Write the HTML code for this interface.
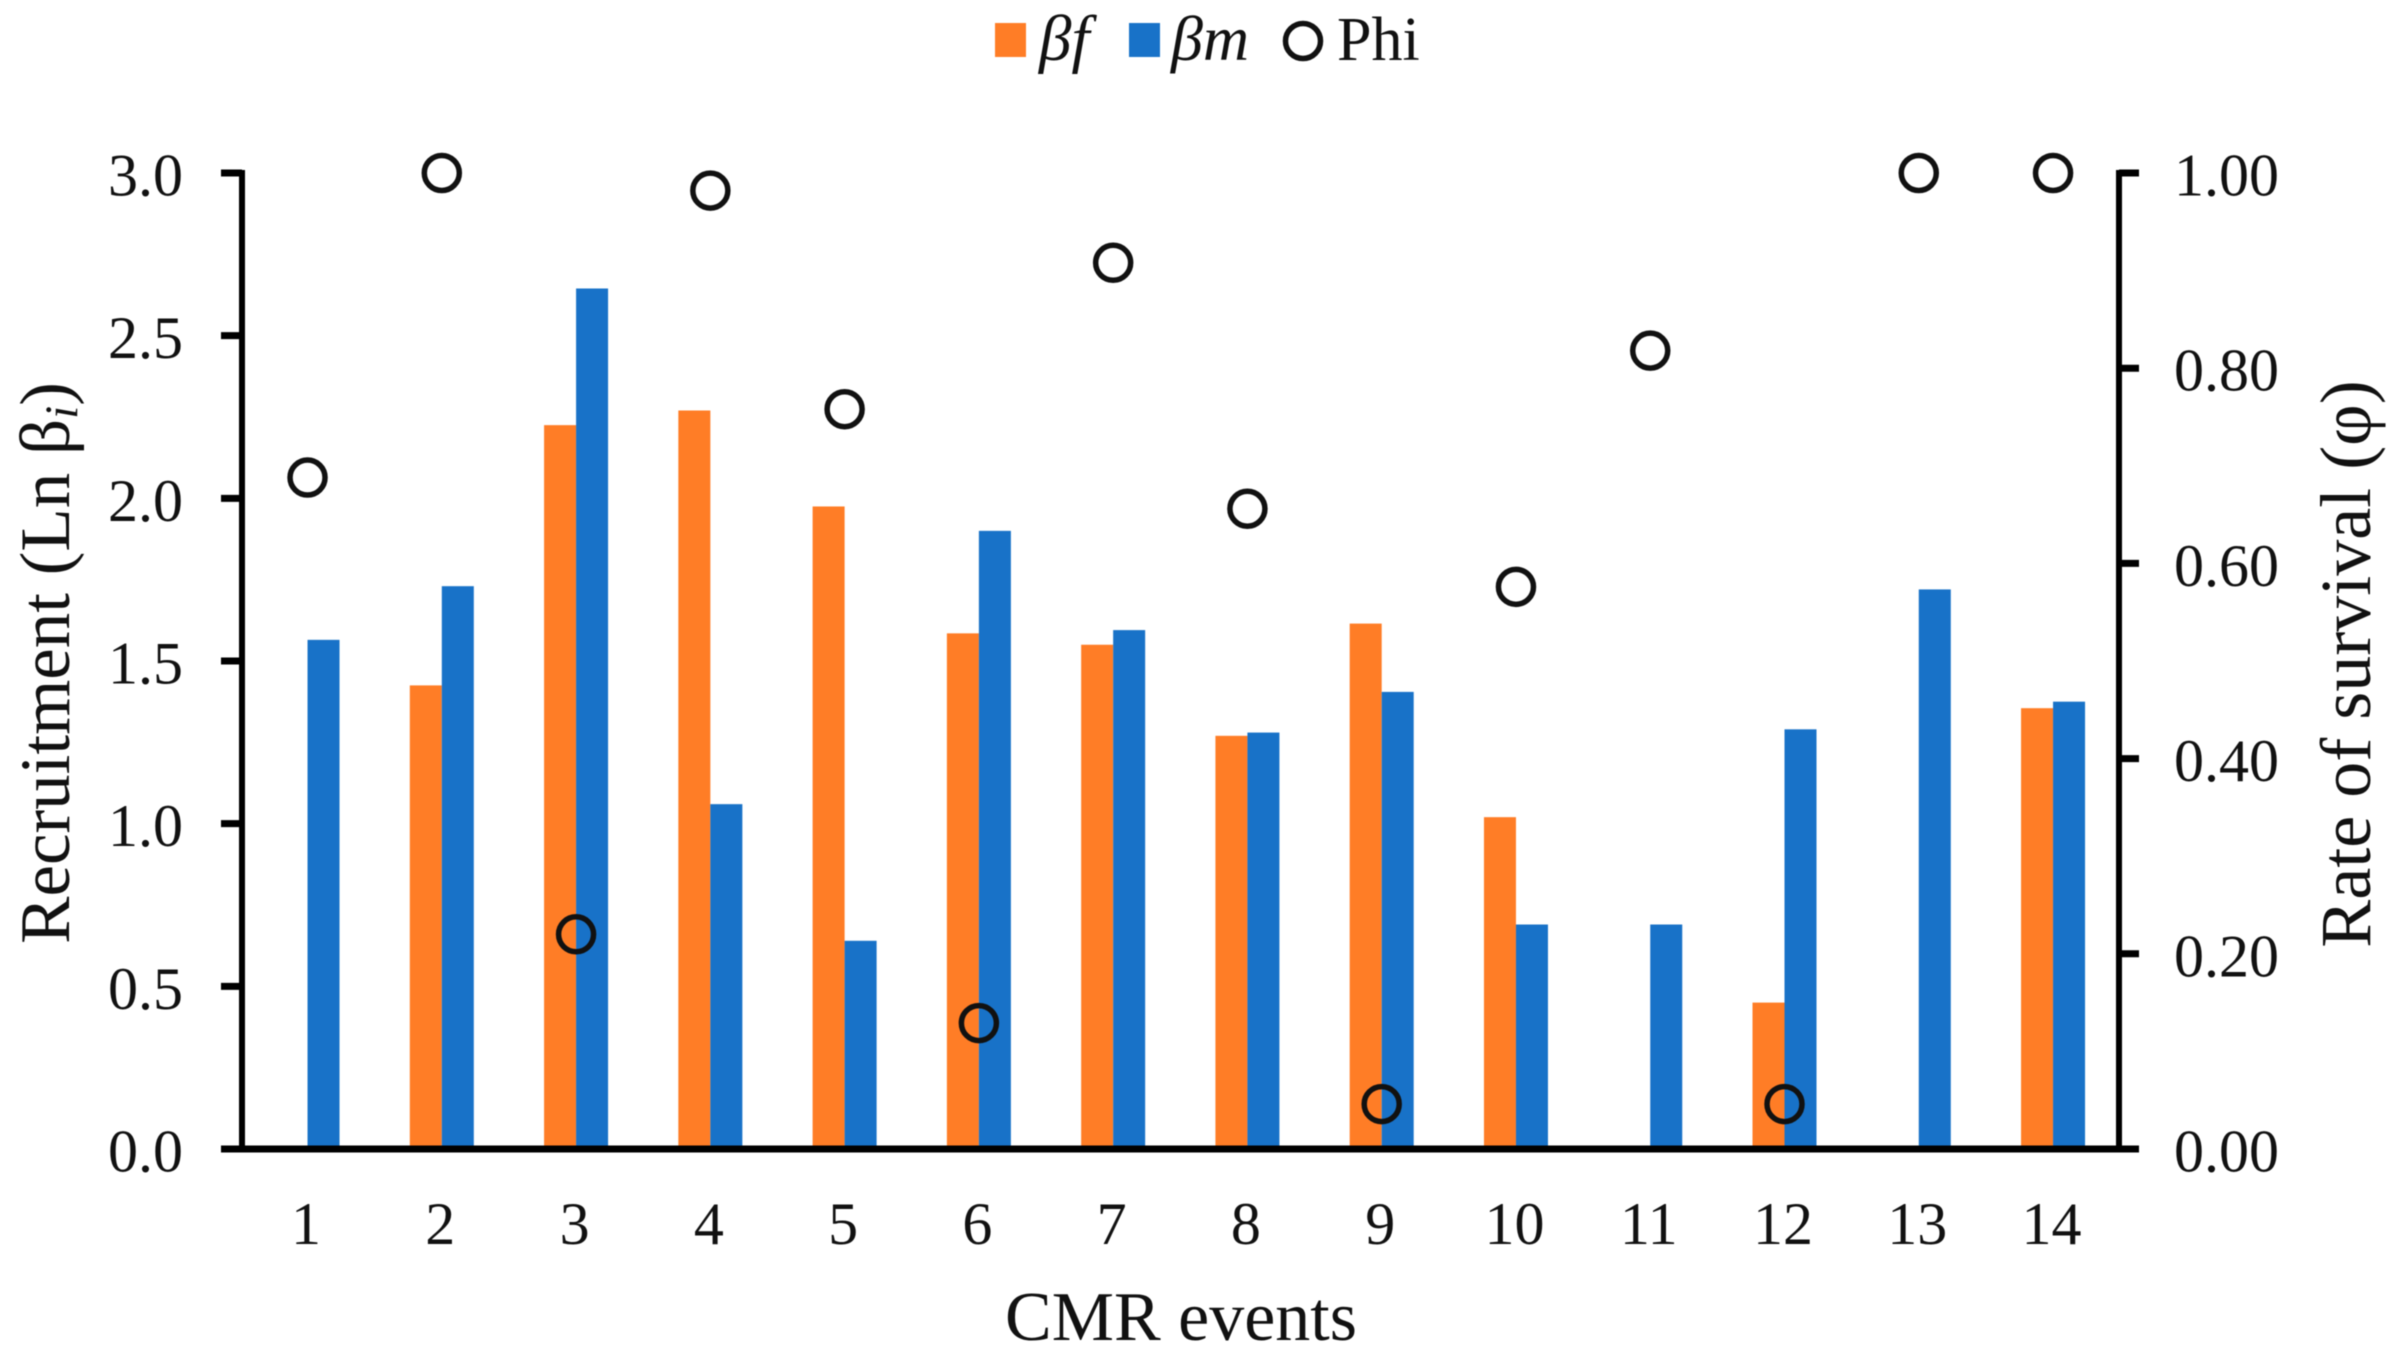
<!DOCTYPE html>
<html>
<head>
<meta charset="utf-8">
<title>Recruitment and survival across CMR events</title>
<style>
html,body{margin:0;padding:0;background:#fff;width:2397px;height:1355px;overflow:hidden}
svg{display:block;filter:blur(.5px)}
text{font-family:"Liberation Serif","DejaVu Serif",serif;fill:#111}
</style>
</head>
<body>
<svg id="chart" xmlns="http://www.w3.org/2000/svg" width="2397" height="1355" viewBox="0 0 2397 1355">
  <rect x="0" y="0" width="2397" height="1355" fill="#fff"/>
  <g id="bars"></g>
  <g id="axes"></g>
  <g id="points"></g>
  <g>
    <rect x="995" y="23" width="31" height="34" fill="#ff7d26"/>
    <text x="1039" y="60" font-size="65" font-style="italic">βf</text>
    <rect x="1129" y="23" width="31" height="34" fill="#1872c8"/>
    <text x="1171" y="60" font-size="64" font-style="italic">βm</text>
    <circle cx="1303" cy="41" r="17.5" fill="none" stroke="#111" stroke-width="5.5"/>
    <text x="1337" y="60" font-size="62">Phi</text>
  </g>
  <text x="1181" y="1340" font-size="70" text-anchor="middle">CMR events</text>
  <text transform="translate(69 663) rotate(-90)" font-size="71" text-anchor="middle">Recruitment (Ln β<tspan font-size="47" font-style="italic" dy="8">i</tspan><tspan dy="-8">)</tspan></text>
  <text transform="translate(2370 664) rotate(-90)" font-size="72" text-anchor="middle">Rate of survival (φ)</text>
</svg>
<script>
var categories = ['1','2','3','4','5','6','7','8','9','10','11','12','13','14'];
var betaF = [0,1.425,2.225,2.27,1.975,1.585,1.55,1.27,1.615,1.02,0,0.45,0,1.355];
var betaM = [1.565,1.73,2.645,1.06,0.64,1.90,1.595,1.28,1.405,0.69,0.69,1.29,1.72,1.375];
var phi = [0.688,1.0,0.22,0.982,0.758,0.129,0.908,0.656,0.046,0.576,0.818,0.046,1.0,1.0];
var leftTicks = ['0.0','0.5','1.0','1.5','2.0','2.5','3.0'];
var rightTicks = ['0.00','0.20','0.40','0.60','0.80','1.00'];

var NS = 'http://www.w3.org/2000/svg';
var plotLeft = 242, plotRight = 2119, plotTop = 173, plotBottom = 1149;
var bandStart = 240.4, bandStep = 134.27, barWidth = 32;

function xCenter(i){ return bandStart + bandStep * (i + 0.5); }
function yLeft(v){ return plotBottom - (v / 3) * (plotBottom - plotTop); }
function yRight(v){ return plotBottom - v * (plotBottom - plotTop); }
function make(tag, attrs, parent){
  var el = document.createElementNS(NS, tag);
  for (var k in attrs) el.setAttribute(k, attrs[k]);
  parent.appendChild(el);
  return el;
}

var barsG = document.getElementById('bars');
var axesG = document.getElementById('axes');
var pointsG = document.getElementById('points');

categories.forEach(function(c, i){
  if (betaF[i] > 0) {
    var fBar = make('rect', {x: xCenter(i) - barWidth, y: yLeft(betaF[i]), width: barWidth, height: plotBottom - yLeft(betaF[i]), fill: '#ff7d26'}, barsG);
    
    
  }
  if (betaM[i] > 0) {
    var mBar = make('rect', {x: xCenter(i), y: yLeft(betaM[i]), width: barWidth, height: plotBottom - yLeft(betaM[i]), fill: '#1872c8'}, barsG);
    
    
  }
  var xLabel = make('text', {x: xCenter(i) - 1.5, y: 1244, 'font-size': 60, 'text-anchor': 'middle'}, axesG);
  xLabel.textContent = c;
  
  
});

var leftAxis = make('line', {x1: plotLeft, x2: plotLeft, y1: plotTop - 3, y2: plotBottom, stroke: '#000', 'stroke-width': 6}, axesG);



var rightAxis = make('line', {x1: plotRight, x2: plotRight, y1: plotTop - 3, y2: plotBottom, stroke: '#000', 'stroke-width': 6}, axesG);



var xAxis = make('line', {x1: 221, x2: 2139, y1: plotBottom, y2: plotBottom, stroke: '#000', 'stroke-width': 7}, axesG);



leftTicks.forEach(function(t){
  var y = yLeft(parseFloat(t));
  var tick = make('line', {x1: 221, x2: plotLeft, y1: y, y2: y, stroke: '#000', 'stroke-width': 7}, axesG);
  
  
  var label = make('text', {x: 183, y: y + 22.5, 'font-size': 60, 'text-anchor': 'end'}, axesG);
  label.textContent = t;
  
  
});

rightTicks.forEach(function(t){
  var y = yRight(parseFloat(t));
  var tick = make('line', {x1: plotRight, x2: 2139, y1: y, y2: y, stroke: '#000', 'stroke-width': 7}, axesG);
  
  
  var label = make('text', {x: 2174, y: y + 22.5, 'font-size': 60}, axesG);
  label.textContent = t;
  
  
});

phi.forEach(function(v, i){
  var pt = make('circle', {cx: xCenter(i), cy: yRight(v), r: 17.5, fill: 'none', stroke: '#111', 'stroke-width': 5.5}, pointsG);
  
  
});
</script>
</body>
</html>
